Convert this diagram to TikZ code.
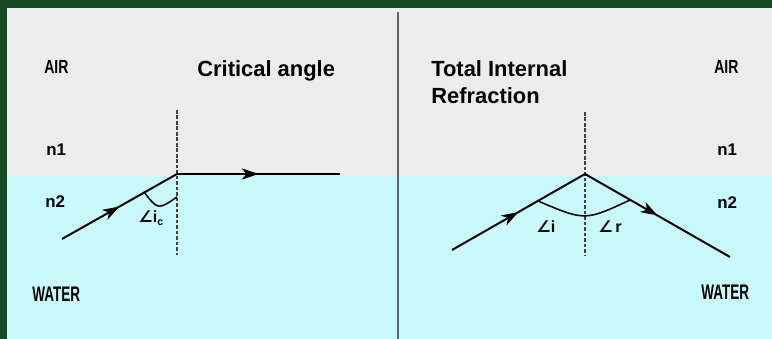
\documentclass[tikz,border=0pt]{standalone}
\usepackage{fontspec}
\setmainfont{Liberation Sans}
\newfontfamily\symfont{DejaVu Sans}
\usetikzlibrary{arrows.meta,decorations.markings}
\definecolor{framegreen}{RGB}{18,74,36}
\definecolor{airgray}{RGB}{236,236,236}
\definecolor{watercyan}{RGB}{200,248,250}
\definecolor{normalgray}{RGB}{65,65,65}
\definecolor{dividergray}{RGB}{95,95,95}
\tikzset{
  ray/.style={line width=1.4pt, black},
  midarrow/.style={postaction={decorate},
    decoration={markings, mark=at position 0.5 with {\arrow{Stealth[length=12pt,width=8pt,inset=3.5pt]}}}},
  normalline/.style={normalgray, line width=1.3pt, dash pattern=on 2.6pt off 1.3pt},
  arcline/.style={black, line width=1.1pt},
  title/.style={inner sep=0pt, font=\bfseries\fontsize{15.6}{19.2}\selectfont},
  medium/.style={inner sep=0pt, anchor=base west, font=\bfseries\fontsize{13.5}{15}\selectfont},
  index/.style={inner sep=0pt, anchor=base west, font=\bfseries\fontsize{12}{14}\selectfont},
  anglbl/.style={inner sep=0pt, anchor=base west, font=\bfseries\fontsize{11.5}{13}\selectfont}
}
\newcommand{\ang}{{\symfont ∠}}
\begin{document}
\begin{tikzpicture}[x=0.025cm, y=-0.025cm]
  \useasboundingbox (0,0) rectangle (772,339);
  % background: frame, air and water
  \fill[framegreen] (0,0) rectangle (772,339);
  \fill[airgray] (7,8) rectangle (772,176);
  \fill[watercyan] (7,176) rectangle (772,339);
  \coordinate (divtop) at (398,12);
  \coordinate (divbot) at (398,339);
  \draw[dividergray, line width=1pt] (divtop) -- (divbot);

  % left: critical angle
  \coordinate (lsrc) at (62,239);
  \coordinate (lhit) at (177,174);
  \coordinate (lout) at (340,174);
  \coordinate (lntop) at (177,110);
  \coordinate (lnbot) at (177,255);
  \coordinate (larca) at (144,192);
  \coordinate (larcb) at (177,197);
  \draw[normalline] (lntop) -- (lnbot);
  \draw[ray, midarrow] (lsrc) -- (lhit);
  \draw[ray, midarrow] (lhit) -- (lout);
  \draw[arcline] (larca) .. controls (158,210) .. (larcb);

  % right: total internal reflection
  \coordinate (rsrc) at (452,250);
  \coordinate (rhit) at (585,174);
  \coordinate (rout) at (730,257);
  \coordinate (rntop) at (585,112);
  \coordinate (rnbot) at (585,256);
  \coordinate (rarca) at (538,201);
  \coordinate (rarcb) at (630,200);
  \draw[normalline] (rntop) -- (rnbot);
  \draw[ray, midarrow] (rsrc) -- (rhit);
  \draw[ray, midarrow] (rhit) -- (rout);
  \draw[arcline] (rarca) .. controls (585,221) .. (rarcb);

  % labels
  \node[title, anchor=base west] (crit) at (197,77) {Critical angle};
  \node[title, anchor=north west, align=left] (tir) at (431,60) {Total Internal\\Refraction};
  \node[medium] (airl) at (44,74) {\scalebox{0.74}[1]{AIR}};
  \node[medium] (airr) at (714,74) {\scalebox{0.74}[1]{AIR}};
  \node[medium, font=\bfseries\fontsize{15}{17}\selectfont] (waterl) at (32,302) {\scalebox{0.64}[1]{WATER}};
  \node[medium, font=\bfseries\fontsize{15}{17}\selectfont] (waterr) at (701,300) {\scalebox{0.64}[1]{WATER}};
  \node[index] (nonel) at (46,156) {n1};
  \node[index] (noner) at (717,156) {n1};
  \node[index] (ntwol) at (45,208) {n2};
  \node[index] (ntwor) at (717,209) {n2};
  \node[anglbl] (angic) at (138,223) {\ang i\raisebox{-1.5pt}{\fontsize{7.5}{8}\selectfont c}};
  \node[anglbl] (angi) at (536,233) {\ang i};
  \node[anglbl] (angr) at (598,233) {\ang\,r};
\end{tikzpicture}
\end{document}
